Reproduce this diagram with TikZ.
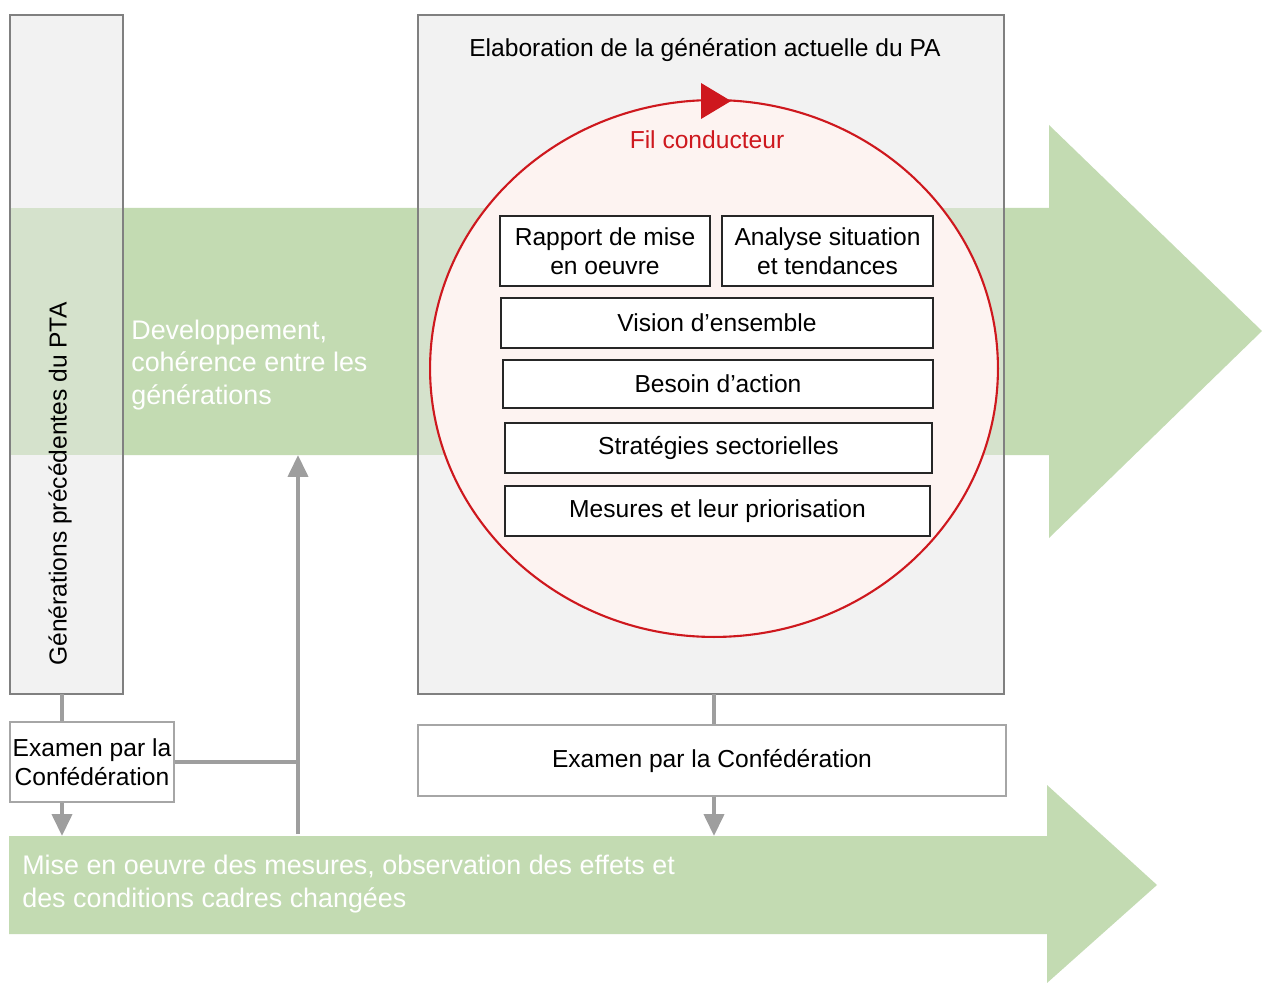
\documentclass[tikz,border=0pt]{standalone}
\usepackage{fontspec}
\setmainfont{Liberation Sans}
\usetikzlibrary{shapes.geometric,calc,arrows.meta}
\definecolor{bandgreen}{RGB}{195,219,178}
\definecolor{bandlite}{RGB}{213,226,204}
\definecolor{boxgrey}{RGB}{242,242,242}
\definecolor{boxline}{RGB}{128,128,128}
\definecolor{filred}{RGB}{206,24,30}
\definecolor{circfill}{RGB}{253,243,241}
\definecolor{conngrey}{RGB}{158,158,158}
\definecolor{examline}{RGB}{166,166,166}

\begin{document}
\begin{tikzpicture}[x=0.02cm,y=-0.02cm,
    greybox/.style={fill=boxgrey,minimum height=13.58cm,inner sep=0pt},
    frame/.style={draw=boxline,line width=1.1pt},
    stepbox/.style={draw=black!85,line width=0.9pt,fill=white,align=center,
      font=\fontsize{14}{16.5}\selectfont,minimum height=1cm,inner sep=0pt},
    exambox/.style={draw=examline,line width=1.1pt,fill=white,align=center,
      font=\fontsize{14}{16.5}\selectfont,inner sep=0pt},
    conn/.style={draw=conngrey,line width=2.3pt},
    connarrow/.style={conn,-{Triangle[width=0.4cm,length=0.44cm]}},
    bandtext/.style={text=white,font=\fontsize{15.3}{18.4}\selectfont,
      align=left,anchor=west,inner sep=0pt}]
    \useasboundingbox (0,0) rectangle (1262,983);
    \coordinate (bandtop) at (0,208);
    \coordinate (bandbot) at (0,455);
    \coordinate (lowtop) at (0,836);

    \fill[bandgreen] (10,208) -- (1049,208) -- (1049,125) -- (1262,331)
        -- (1049,538) -- (1049,455) -- (10,455) -- cycle;
    \fill[bandgreen] (9,836) -- (1047,836) -- (1047,785) -- (1157,885)
        -- (1047,983) -- (1047,934) -- (9,934) -- cycle;

    \node[greybox,minimum width=2.26cm] (prev) at (66.5,354.5) {};
    \node[greybox,minimum width=11.72cm] (curr) at (711,354.5) {};
    \fill[bandlite] (prev.west |- bandtop) rectangle (prev.east |- bandbot);
    \fill[bandlite] (curr.west |- bandtop) rectangle (curr.east |- bandbot);
    \draw[frame] (prev.north west) rectangle (prev.south east);
    \draw[frame] (curr.north west) rectangle (curr.south east);

    \node[rotate=90,font=\fontsize{14}{16.5}\selectfont] (prevlabel) at (60,484) {Générations précédentes du PTA};
    \node[font=\fontsize{14}{16.5}\selectfont] (currlabel) at (705,50) {Elaboration de la génération actuelle du PA};
    \node[bandtext] (devtext) at (131,365) {Developpement,\\cohérence entre les\\générations};
    \node[bandtext] (lowtext) at (22,884) {Mise en oeuvre des mesures, observation des effets et\\des conditions cadres changées};

    \node[ellipse,draw=filred,fill=circfill,line width=1.2pt,inner sep=0pt,
        minimum width=11.36cm,minimum height=10.74cm] (fil) at (714,368.5) {};
    \fill[filred] (701,83) -- (731,101) -- (701,119) -- cycle;
    \node[text=filred,font=\fontsize{14}{16.5}\selectfont] (fillabel) at (707,140) {Fil conducteur};

    \node[stepbox,minimum width=4.2cm,minimum height=1.4cm] (rapport) at (605,251) {Rapport de mise\\en oeuvre};
    \node[stepbox,minimum width=4.22cm,minimum height=1.4cm] (analyse) at (827.5,251) {Analyse situation\\et tendances};
    \node[stepbox,minimum width=8.64cm] (vision) at (717,323) {Vision d’ensemble};
    \node[stepbox,minimum width=8.6cm,minimum height=0.96cm] (besoin) at (718,384) {Besoin d’action};
    \node[stepbox,minimum width=8.54cm] (strat) at (718.5,448) {Stratégies sectorielles};
    \node[stepbox,minimum width=8.5cm] (mesures) at (717.5,511) {Mesures et leur priorisation};

    \node[exambox,minimum width=3.28cm,minimum height=1.6cm] (exleft) at (92,762) {Examen par la\\Confédération};
    \node[exambox,minimum width=11.76cm,minimum height=1.42cm] (exright) at (712,760.5) {Examen par la Confédération};

    \coordinate (upfoot) at (298,834);
    \coordinate (uphead) at (298,455);
    \coordinate (midline) at (714,0);
    \draw[conn] (prev.south -| 62,0) -- (exleft.north -| 62,0);
    \draw[connarrow] (exleft.south -| 62,0) -- (lowtop -| 62,0);
    \draw[conn] (exleft.east) -- (exleft.east -| upfoot);
    \draw[connarrow] (upfoot) -- (uphead);
    \draw[conn] (curr.south -| midline) -- (exright.north -| midline);
    \draw[connarrow] (exright.south -| midline) -- (lowtop -| midline);
\end{tikzpicture}
\end{document}
